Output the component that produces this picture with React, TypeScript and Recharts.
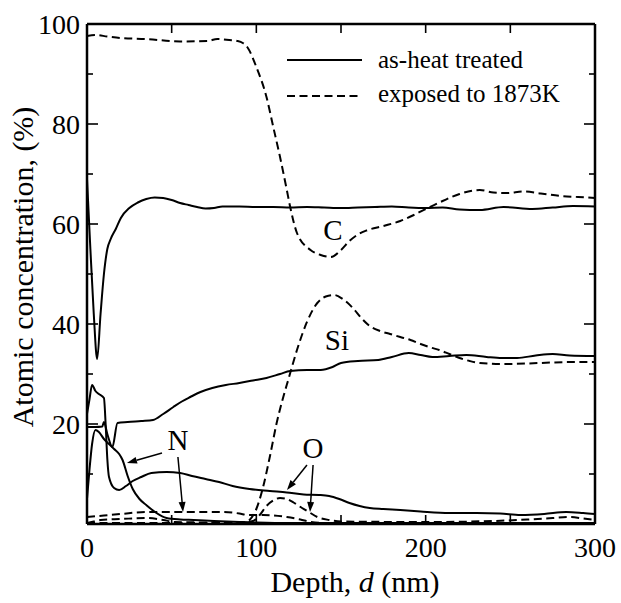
import React from 'react'
import {
  LineChart,
  Line,
  XAxis,
  YAxis,
  ReferenceLine,
  ReferenceDot,
  Legend,
} from 'recharts'

// depth (nm), atomic concentration (%)
const cHeat = [
  [0, 69], [2, 55], [4, 42], [6, 33], [8, 42], [10, 50], [12, 55], [14, 57], [17, 59], [20, 61.2],
  [25, 63.2], [30, 64.3], [35, 65], [40, 65.3], [45, 65.2], [50, 64.8], [55, 64.2], [60, 63.8],
  [65, 63.4], [70, 63.1], [75, 63.2], [80, 63.5], [90, 63.5], [100, 63.4], [110, 63.4], [120, 63.3],
  [130, 63.4], [140, 63.3], [150, 63.2], [160, 63.3], [170, 63.4], [180, 63.5], [190, 63.3],
  [200, 63.2], [210, 63.3], [220, 62.9], [232, 62.8], [246, 63.4], [263, 63.0], [275, 63.3],
  [287, 63.6], [300, 63.5],
]
const cExposed = [
  [0, 97.6], [5, 97.8], [12, 97.5], [20, 97.2], [35, 97.0], [55, 96.5], [71, 96.6], [77, 97.0],
  [84, 96.8], [89, 96.6], [92, 96.2], [95, 95.2], [100, 91.4], [106, 85.4], [110, 79.4],
  [114, 73.4], [118, 66.8], [120, 63.4], [124, 58.2], [132, 54.8], [138, 53.8], [144, 53.4],
  [150, 54.8], [155, 56.6], [160, 57.9], [165, 58.7], [175, 59.6], [185, 60.6], [193, 61.8],
  [200, 63], [210, 64.6], [220, 66], [232, 66.8], [240, 66.3], [248, 66.2], [258, 66.5],
  [268, 66.1], [280, 65.6], [290, 65.4], [300, 65.2],
]
const siHeat = [
  [0, 19.4], [5, 19.4], [9, 19.5], [10, 20.4], [12, 18], [15, 15.4], [18, 20.2], [24, 20.4],
  [32, 20.6], [39, 20.8], [45, 22], [51, 23.4], [56, 24.5], [61, 25.4], [67, 26.4], [74, 27.2],
  [82, 27.8], [90, 28.2], [98, 28.7], [106, 29.2], [114, 30], [120, 30.6], [130, 30.8],
  [138, 30.8], [145, 31.4], [150, 32.2], [160, 32.6], [172, 32.8], [180, 33.4], [190, 34.2],
  [197, 33.8], [204, 33.4], [214, 33.6], [224, 33.8], [236, 33.4], [245, 33.2], [254, 33.2],
  [265, 33.7], [275, 34], [285, 33.7], [300, 33.6],
]
const siExposed = [
  [0, 0.2], [50, 0.2], [90, 0.2], [94, 0.4], [96, 0.8], [100, 3], [104, 7.4], [108, 13.5],
  [112, 20.2], [116, 25.5], [119, 29], [124, 34.8], [130, 40.5], [136, 44.2], [141, 45.5],
  [146, 45.8], [151, 45], [157, 43.2], [162, 41.2], [167, 39.6], [173, 38.6], [179, 38],
  [185, 37.4], [191, 36.8], [197, 36], [203, 35.3], [208, 34.8], [214, 34], [220, 33.2],
  [226, 32.6], [232, 32.2], [245, 32], [260, 32.1], [275, 32.3], [290, 32.4], [300, 32.4],
]
const nHeat = [
  [0, 5], [1.5, 11], [3, 16], [5, 18.8], [7, 18.4], [10, 17], [13, 16], [16, 15], [19, 14],
  [21, 12.8], [24, 9.6], [27, 7], [31, 5], [35, 3.8], [41, 2.2], [47, 1.2], [55, 0.9], [63, 0.8],
  [75, 0.6], [90, 0.4], [100, 0.3], [120, 0.2], [160, 0.2], [220, 0.2], [300, 0.2],
]
const nExposed = [
  [0, 1.4], [10, 1.7], [20, 2.0], [35, 2.4], [55, 2.4], [80, 2.4], [90, 2.1], [95, 1.8],
  [104, 1.8], [118, 1.4], [126, 0.9], [132, 0.4], [140, 0.2], [200, 0.2], [300, 0.2],
]
const oHeat = [
  [0, 22], [1.5, 25], [3, 27.8], [5, 26.6], [7, 26], [10, 25.2], [11, 20], [12, 13], [13, 9.4],
  [16, 7.2], [19, 6.8], [23, 7.6], [27, 8.6], [32, 9.4], [38, 10.2], [47, 10.4], [55, 10.2],
  [62, 9.6], [70, 9.0], [78, 8.4], [86, 7.6], [96, 7.0], [108, 6.6], [118, 6.3], [128, 5.9],
  [137, 5.8], [143, 5.6], [149, 5.0], [155, 4.2], [161, 3.6], [167, 3.2], [175, 3.0], [185, 2.8],
  [197, 2.5], [214, 2.2], [230, 2.2], [244, 2.1], [256, 1.8], [270, 2.0], [283, 2.4], [293, 2.2],
  [300, 2.0],
]
const oExposed = [
  [0, 0.2], [4, 0.5], [8, 0.8], [20, 1.0], [35, 1.2], [45, 0.8], [52, 0.4], [70, 0.3], [90, 0.2],
  [98, 0.6], [102, 1.8], [106, 3.6], [110, 4.7], [114, 5.2], [118, 5], [122, 4.3], [127, 3.2],
  [131, 2.4], [136, 1.4], [143, 0.8], [150, 0.5], [200, 0.4], [240, 0.6], [260, 0.9],
  [275, 1.2], [285, 1.4], [293, 1.1], [300, 0.8],
]

const xTicks = [0, 50, 100, 150, 200, 250, 300]
const yTicks = [0, 10, 20, 30, 40, 50, 60, 70, 80, 90, 100]
const legendLabels = ['as-heat treated', 'exposed to 1873K']

const toPts = (arr: number[][]) => arr.map(([d, v]) => ({ d, v }))

const DASH = '8 4.5'

// serif text; font set both as attribute and as style
const T = ({ children, ...rest }: any) => (
  <text fontFamily="Liberation Serif" fill="#000" {...rest} style={{ fontFamily: 'Liberation Serif' }}>
    {children}
  </text>
)

// inward tick + optional outside label
const makeTick = (dir: 'bottom' | 'top' | 'left' | 'right', labelEvery: number) => (props: any) => {
  const { x, y, payload } = props
  const val = payload.value
  const major = val % 20 === 0
  let len = 9
  if (dir === 'left' || dir === 'right') len = major ? 11 : 6
  const showLabel = labelEvery > 0 && val % labelEvery === 0 && !(dir === 'left' && val === 0)
  let line
  if (dir === 'bottom') line = <line x1={x} y1={y} x2={x} y2={y - len} />
  else if (dir === 'top') line = <line x1={x} y1={y} x2={x} y2={y + len} />
  else if (dir === 'left') line = <line x1={x} y1={y} x2={x + len} y2={y} />
  else line = <line x1={x} y1={y} x2={x - len} y2={y} />
  return (
    <g>
      <g stroke="#000" strokeWidth={1.6}>{line}</g>
      {showLabel && dir === 'bottom' && (
        <T x={x} y={y + 33} textAnchor="middle" fontSize={28}>{String(val)}</T>
      )}
      {showLabel && dir === 'left' && (
        <T x={x - 7} y={y + 9.5} textAnchor="end" fontSize={28}>{String(val)}</T>
      )}
    </g>
  )
}

const arrow = (props: any) => {
  const { x1, y1, x2, y2 } = props
  const a = Math.atan2(y2 - y1, x2 - x1)
  const L = 10
  const W = 3.5
  const bx = x2 - L * Math.cos(a)
  const by = y2 - L * Math.sin(a)
  const px = -Math.sin(a) * W
  const py = Math.cos(a) * W
  return (
    <g>
      <line x1={x1} y1={y1} x2={bx} y2={by} stroke="#000" strokeWidth={1.5} />
      <polygon points={`${x2},${y2} ${bx + px},${by + py} ${bx - px},${by - py}`} fill="#000" />
    </g>
  )
}

const note = (text: string) => (props: any) => (
  <T x={props.cx} y={props.cy + 10} textAnchor="middle" fontSize={29}>{text}</T>
)

const LegendBox = () => (
  <svg width={320} height={75} style={{ display: 'block' }}>
    <line x1={7} y1={20} x2={82} y2={20} stroke="#000" strokeWidth={2} />
    <T x={98} y={28} fontSize={25}>{legendLabels[0]}</T>
    <line x1={7} y1={56} x2={82} y2={56} stroke="#000" strokeWidth={2} strokeDasharray={DASH} />
    <T x={98} y={62} fontSize={25}>{legendLabels[1]}</T>
  </svg>
)

const XLabel = (props: any) => {
  const { viewBox } = props
  const cx = viewBox.x + viewBox.width / 2 + 14
  return (
    <T x={cx} y={viewBox.y + 68} textAnchor="middle" fontSize={30}>
      Depth, <tspan fontStyle="italic">d</tspan> (nm)
    </T>
  )
}

const YLabel = (props: any) => {
  const { viewBox } = props
  const cy = viewBox.y + viewBox.height / 2 - 7
  const cx = 33
  return (
    <T x={cx} y={cy} transform={`rotate(-90, ${cx}, ${cy})`} textAnchor="middle" fontSize={30}>
      Atomic concentration, (%)
    </T>
  )
}

const series = [
  { name: 'C heat', data: cHeat, dash: undefined },
  { name: 'C exposed', data: cExposed, dash: DASH },
  { name: 'Si heat', data: siHeat, dash: undefined },
  { name: 'Si exposed', data: siExposed, dash: DASH },
  { name: 'N heat', data: nHeat, dash: undefined },
  { name: 'N exposed', data: nExposed, dash: DASH },
  { name: 'O heat', data: oHeat, dash: undefined },
  { name: 'O exposed', data: oExposed, dash: DASH },
]

export default function App() {
  return (
    <div style={{ position: 'absolute', left: 0, top: 0, background: '#fff', fontFamily: 'Liberation Serif' }}>
      <LineChart width={621} height={603} margin={{ top: 23, right: 25, bottom: 19, left: 27 }}>
        <XAxis
          dataKey="d"
          type="number"
          domain={[0, 300]}
          ticks={xTicks}
          allowDataOverflow
          height={60}
          tickSize={0}
          tickMargin={0}
          tickLine={false}
          axisLine={{ stroke: '#000', strokeWidth: 2.5 }}
          tick={makeTick('bottom', 100)}
          interval={0}
          label={{ content: XLabel }}
        />
        <XAxis
          xAxisId="top"
          orientation="top"
          dataKey="d"
          type="number"
          domain={[0, 300]}
          ticks={xTicks}
          allowDataOverflow
          height={1}
          tickSize={0}
          tickMargin={0}
          tickLine={false}
          axisLine={{ stroke: '#000', strokeWidth: 2.5 }}
          tick={makeTick('top', 0)}
          interval={0}
        />
        <YAxis
          type="number"
          domain={[0, 100]}
          ticks={yTicks}
          allowDataOverflow
          width={60}
          tickSize={0}
          tickMargin={0}
          tickLine={false}
          axisLine={{ stroke: '#000', strokeWidth: 2.5 }}
          tick={makeTick('left', 20)}
          interval={0}
          label={{ content: YLabel }}
        />
        <YAxis
          yAxisId="right"
          orientation="right"
          type="number"
          domain={[0, 100]}
          ticks={yTicks}
          allowDataOverflow
          width={1}
          tickSize={0}
          tickMargin={0}
          tickLine={false}
          axisLine={{ stroke: '#000', strokeWidth: 2.5 }}
          tick={makeTick('right', 0)}
          interval={0}
        />
        <Legend
          layout="vertical"
          align="center"
          verticalAlign="middle"
          wrapperStyle={{ top: 40, left: 280, width: 320 }}
          content={() => <LegendBox />}
        />
        {series.map((s) => (
          <Line
            key={s.name}
            name={s.name}
            data={toPts(s.data)}
            dataKey="v"
            type="monotone"
            stroke="#000"
            strokeWidth={2}
            strokeDasharray={s.dash}
            dot={false}
            activeDot={false}
            isAnimationActive={false}
            legendType="none"
          />
        ))}
        <ReferenceDot x={145.3} y={58.8} r={0} ifOverflow="visible" shape={note('C')} />
        <ReferenceDot x={147.6} y={36.8} r={0} ifOverflow="visible" shape={note('Si')} />
        <ReferenceDot x={53.7} y={16.8} r={0} ifOverflow="visible" shape={note('N')} />
        <ReferenceDot x={133.5} y={15.2} r={0} ifOverflow="visible" shape={note('O')} />
        <ReferenceLine segment={[{ x: 44.3, y: 14.2 }, { x: 23.6, y: 12.2 }]} ifOverflow="visible" shape={arrow} />
        <ReferenceLine segment={[{ x: 53.7, y: 13.4 }, { x: 56.7, y: 2.4 }]} ifOverflow="visible" shape={arrow} />
        <ReferenceLine segment={[{ x: 129.9, y: 11.8 }, { x: 118.1, y: 6.8 }]} ifOverflow="visible" shape={arrow} />
        <ReferenceLine segment={[{ x: 133.5, y: 11.8 }, { x: 131.7, y: 2.4 }]} ifOverflow="visible" shape={arrow} />
      </LineChart>
    </div>
  )
}
